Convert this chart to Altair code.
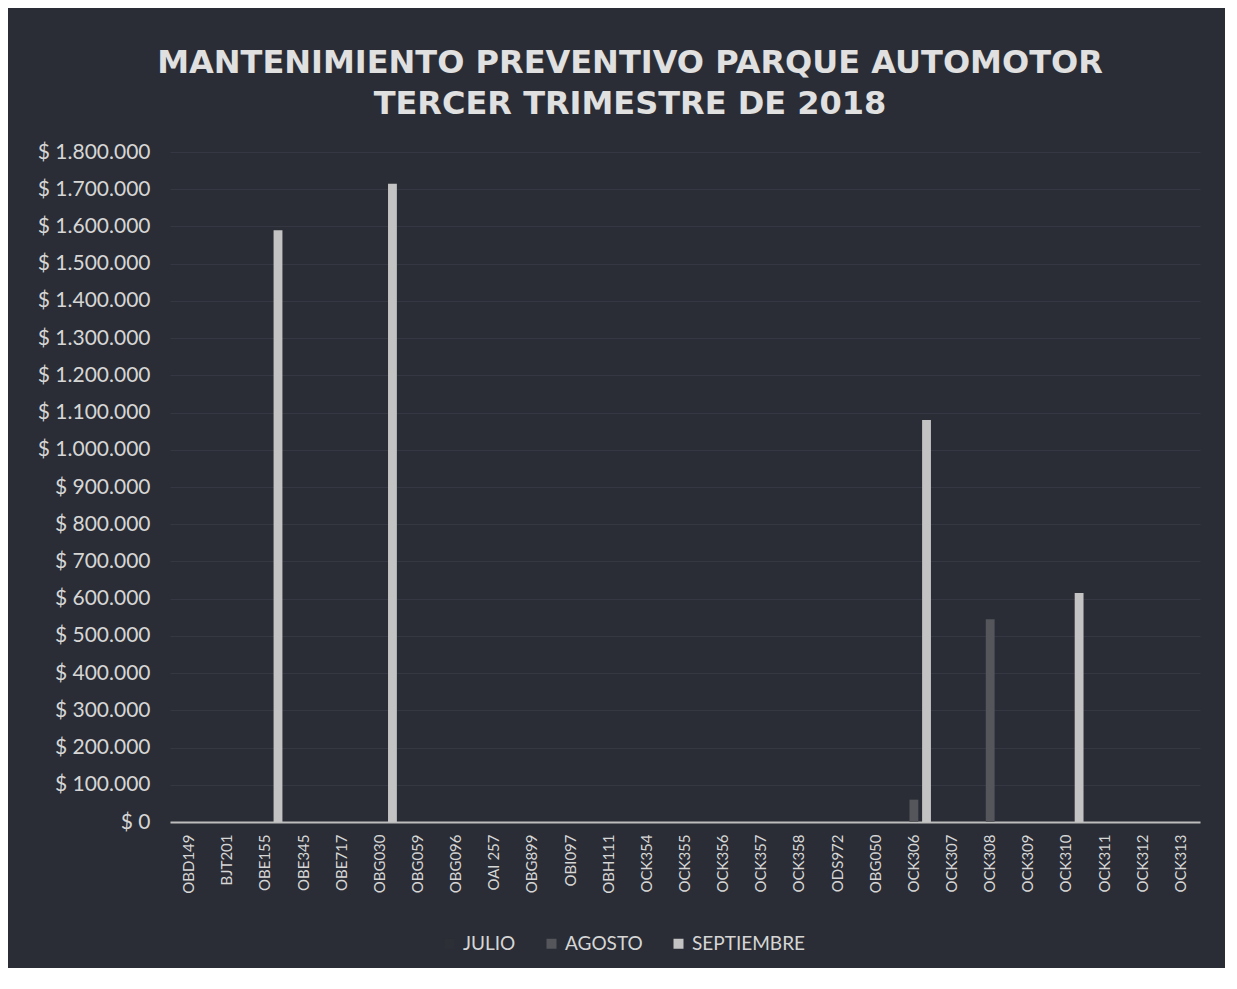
import altair as alt
import pandas as pd

categorias = ["OBD149", "BJT201", "OBE155", "OBE345", "OBE717", "OBG030", "OBG059",
              "OBG096", "OAI 257", "OBG899", "OBI097", "OBH111", "OCK354", "OCK355",
              "OCK356", "OCK357", "OCK358", "ODS972", "OBG050", "OCK306", "OCK307",
              "OCK308", "OCK309", "OCK310", "OCK311", "OCK312", "OCK313"]

julio = [0, 0, 0, 0, 0, 0, 0, 0, 0, 0, 0, 0, 0, 0,
         0, 0, 0, 0, 0, 0, 0, 0, 0, 0, 0, 0, 0]
agosto = [0, 0, 0, 0, 0, 0, 0, 0, 0, 0, 0, 0, 0, 0,
          0, 0, 0, 0, 0, 60000, 0, 545000, 0, 0, 0, 0, 0]
septiembre = [0, 0, 1590000, 0, 0, 1715000, 0, 0, 0, 0, 0, 0, 0, 0,
              0, 0, 0, 0, 0, 1080000, 0, 0, 0, 615000, 0, 0, 0]

meses = ["JULIO", "AGOSTO", "SEPTIEMBRE"]
colores = ["#2d2f37", "#55565c", "#c3c3c3"]
ticks_y = [0, 100000, 200000, 300000, 400000, 500000, 600000, 700000, 800000, 900000,
           1000000, 1100000, 1200000, 1300000, 1400000, 1500000, 1600000, 1700000, 1800000]

rows = []
for i, c in enumerate(categorias):
    for mes, vals in zip(meses, [julio, agosto, septiembre]):
        rows.append({"placa": c, "mes": mes, "valor": vals[i]})
df = pd.DataFrame(rows)

txt = "#d6d6d6"

chart = alt.Chart(df).mark_bar().encode(
    x=alt.X("placa:N", sort=categorias, title=None,
            scale=alt.Scale(paddingInner=0, paddingOuter=0),
            axis=alt.Axis(labelAngle=270, labelFont="Lato", labelFontSize=15,
                          labelColor=txt, labelPadding=12, ticks=False,
                          domainColor="#bdbdbd", domainWidth=2, grid=False)),
    xOffset=alt.XOffset("mes:N", sort=meses,
                        scale=alt.Scale(paddingInner=0.3, paddingOuter=0.16)),
    y=alt.Y("valor:Q", title=None, scale=alt.Scale(domain=[0, 1800000]),
            axis=alt.Axis(values=ticks_y, format="$,.0f", labelFont="Lato",
                          labelFontSize=21, labelColor=txt, labelPadding=20,
                          ticks=False, domain=False, gridColor="#353842",
                          gridWidth=1)),
    color=alt.Color("mes:N", sort=meses,
                    scale=alt.Scale(domain=meses, range=colores),
                    legend=alt.Legend(title=None, orient="none", direction="horizontal",
                                      legendX=270, legendY=782, symbolType="square",
                                      symbolSize=100, labelFont="Lato", labelFontSize=19,
                                      labelColor=txt, columnPadding=26,
                                      symbolStrokeWidth=0)),
).properties(
    width=1030, height=670,
    padding={"left": 162, "top": 144, "right": 25, "bottom": 146},
    autosize=alt.AutoSizeParams(type="none"),
    title=alt.TitleParams(["MANTENIMIENTO PREVENTIVO PARQUE AUTOMOTOR",
                           "TERCER TRIMESTRE DE 2018"],
                          font="DejaVu Sans", fontSize=32, fontWeight="bold",
                          color="#e0e0e0", anchor="middle", dx=-55, offset=20,
                          lineHeight=41),
).configure(
    background="#2a2d35",
    locale={"number": {"decimal": ",", "thousands": ".", "grouping": [3],
                       "currency": ["$ ", ""]}},
).configure_view(stroke=None)

chart.save("out.html", embed_options={"renderer": "svg", "actions": False})
